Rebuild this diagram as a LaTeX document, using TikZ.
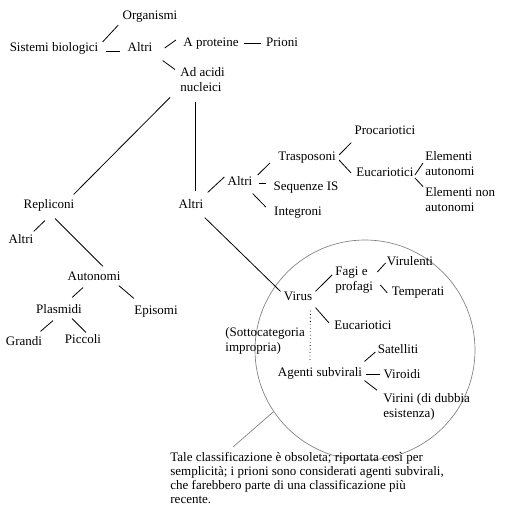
\documentclass[tikz,border=0pt]{standalone}
\usepackage{fontspec}
\setmainfont{Liberation Serif}

\begin{document}
\begin{tikzpicture}[x=.75pt,y=-.75pt,line width=.6pt,
  every node/.style={inner sep=0pt,font=\fontsize{9.75}{11.25}\selectfont},
  lbl/.style={text height=7pt,text depth=1.5pt},
  two/.style={align=left,anchor=west}]
\useasboundingbox (0,0) rectangle (512,530);
\node[draw=gray,circle,minimum size=165pt,line width=.5pt] (zoom) at (365,350) {};
\node[lbl] (org) at (150,16) {Organismi};
\node[lbl] (sis) at (54,48) {Sistemi biologici};
\node[lbl] (alt1) at (140,48) {Altri};
\node[lbl] (aprot) at (211,43) {A proteine};
\node[lbl] (prion) at (282,43) {Prioni};
\node[two] (acidi) at (180,80) {Ad acidi\\nucleici};
\node[lbl] (repl) at (49,205) {Repliconi};
\node[lbl] (alt2) at (191,205) {Altri};
\node[lbl] (alt3) at (240,182) {Altri};
\node[lbl] (trasp) at (307,157) {Trasposoni};
\node[lbl] (seq) at (306,187) {Sequenze IS};
\node[lbl] (integ) at (298,212) {Integroni};
\node[lbl] (proc) at (385,131) {Procariotici};
\node[lbl] (euc1) at (385,173) {Eucariotici};
\node[two] (elaut) at (425,164) {Elementi\\autonomi};
\node[two] (elnon) at (425,200) {Elementi non\\autonomi};
\node[lbl] (altL) at (21,240) {Altri};
\node[lbl] (auton) at (94,277) {Autonomi};
\node[lbl] (plasm) at (59,310) {Plasmidi};
\node[lbl] (episo) at (156,311) {Episomi};
\node[lbl] (grandi) at (24,342) {Grandi};
\node[lbl] (piccoli) at (83,340) {Piccoli};
\node[lbl] (virus) at (298,297) {Virus};
\node[two] (fagi) at (335,280) {Fagi e\\profagi};
\node[lbl] (virul) at (410,262) {Virulenti};
\node[lbl] (temper) at (418,292) {Temperati};
\node[lbl] (euc2) at (363,326) {Eucariotici};
\node[two] (sotto) at (225,341) {(Sottocategoria\\impropria)};
\node[lbl] (agenti) at (320,373) {Agenti subvirali};
\node[lbl] (satel) at (398,350) {Satelliti};
\node[lbl] (viroidi) at (402,375) {Viroidi};
\node[two] (virini) at (383,407) {Virini (di dubbia\\esistenza)};
\node[align=left,anchor=north west,font=\fontsize{9.75}{10.5}\selectfont] (note) at (170,452) {Tale classificazione è obsoleta; riportata così per\\semplicità; i prioni sono considerati agenti subvirali,\\che farebbero parte di una classificazione più\\recente.};
\coordinate (lead) at (233,447);
% connectors
\draw ([shift={(4,0)}]sis.north east) -- ([shift={(-4,3)}]org.south west);
\draw ([shift={(7,3)}]sis.east) -- ([shift={(-7,3)}]alt1.west);
\draw ([shift={(12,0)}]alt1.east) -- ([shift={(-7,-3)}]aprot.west);
\draw ([shift={(5,0)}]aprot.east) -- ([shift={(-5,0)}]prion.west);
\draw ([shift={(10,6.5)}]alt1.south east) -- ([shift={(-5,2)}]acidi.north west);
\draw ([shift={(-10,5)}]acidi.south west) -- ([shift={(-1,-4.5)}]repl.north east);
\draw ([shift={(15,10)}]acidi.south west) -- ([shift={(4,-7.5)}]alt2.north);
\draw ([shift={(4,-6.5)}]alt2.north east) -- ([shift={(-3,-5)}]alt3.west);
\draw ([shift={(5,-7)}]alt3.east) -- ([shift={(-8,6)}]trasp.west);
\draw ([shift={(6,1)}]alt3.east) -- ([shift={(-7,-4)}]seq.west);
\draw ([shift={(0,5.5)}]alt3.south east) -- ([shift={(-8,-5)}]integ.west);
\draw ([shift={(3,-2)}]trasp.east) -- ([shift={(-3,5.5)}]proc.south west);
\draw ([shift={(3,3)}]trasp.east) -- ([shift={(-5,0)}]euc1.west);
\draw ([shift={(1,2)}]euc1.east) -- ([shift={(-2,-1)}]elaut.west);
\draw ([shift={(1,5)}]euc1.east) -- ([shift={(-2,-1)}]elnon.north west);
\draw ([shift={(-4,9.5)}]repl.south) -- ([shift={(0,-2.5)}]altL.north east);
\draw ([shift={(6,7.5)}]repl.south) -- ([shift={(9,-4.5)}]auton.north);
\draw ([shift={(-11,4.5)}]auton.south) -- ([shift={(-10,-6.5)}]plasm.north east);
\draw ([shift={(-2,2.5)}]auton.south east) -- ([shift={(0,-6.5)}]episo.north west);
\draw ([shift={(-6,4.5)}]plasm.south) -- ([shift={(-2,-4.5)}]grandi.north east);
\draw ([shift={(13,2.5)}]plasm.south) -- ([shift={(3,-1.5)}]piccoli.north);
\draw ([shift={(1,6.5)}]alt2.south east) -- ([shift={(-3,0.5)}]virus.north west);
\draw ([shift={(3,0.5)}]virus.north east) -- ([shift={(-3,-5)}]fagi.west);
\draw ([shift={(4,-8)}]fagi.east) -- ([shift={(-1,1)}]virul.west);
\draw ([shift={(7,5)}]fagi.east) -- ([shift={(-4,1)}]temper.west);
\draw ([shift={(3,4.5)}]virus.south east) -- ([shift={(-5,-3)}]euc2.west);
\draw[dotted] ([shift={(-2,7.5)}]virus.south east) -- ([shift={(-10,-5.5)}]agenti.north);
\draw ([shift={(2,-5.5)}]agenti.north east) -- ([shift={(-2,2)}]satel.west);
\draw ([shift={(4,1)}]agenti.east) -- ([shift={(-3,-1)}]viroidi.west);
\draw ([shift={(2,1.5)}]agenti.south east) -- ([shift={(-6,-3)}]virini.north west);
\draw[gray,line width=.5pt] (zoom.214) -- (lead);
\end{tikzpicture}
\end{document}
